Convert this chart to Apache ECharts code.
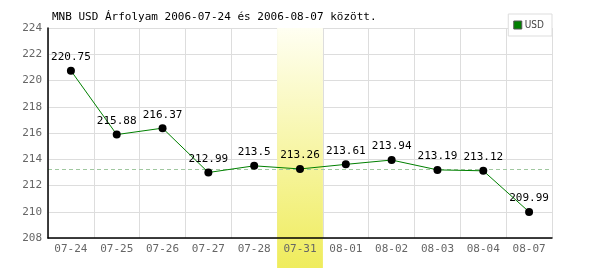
<!DOCTYPE html>
<html><head><meta charset="utf-8">
<script src="https://cdn.jsdelivr.net/npm/echarts@6/dist/echarts.min.js"></script>
<style>html,body{margin:0;padding:0;background:#fff}#c{width:600px;height:270px}</style>
</head><body><div id="c"></div>
<script>
const categories = ['07-24','07-25','07-26','07-27','07-28','07-31','08-01','08-02','08-03','08-04','08-07'];
const usdValues = [220.75, 215.88, 216.37, 212.99, 213.5, 213.26, 213.61, 213.94, 213.19, 213.12, 209.99];
const highlightCategory = '07-31';
const referenceLine = [213.26];
const yTicks = [208, 210, 212, 214, 216, 218, 220, 222, 224];
const titleText = 'MNB USD Árfolyam 2006-07-24 és 2006-08-07 között.';
const seriesName = 'USD';

const mono = 'DejaVu Sans Mono';
const bandData = categories.map(c => c === highlightCategory ? 1 : '-');

const chart = echarts.init(document.getElementById('c'), null, {renderer: 'canvas'});
chart.setOption({
  animation: false,
  backgroundColor: '#fff',
  title: {
    text: titleText, left: 47, top: 7,
    textStyle: {fontFamily: mono, fontSize: 11, fontWeight: 'normal', color: '#000'}
  },
  legend: {
    data: [{name: seriesName, icon: 'rect', itemStyle: {color: '#008000', borderColor: '#555', borderWidth: 1}}],
    right: 48, top: 14, orient: 'vertical',
    itemWidth: 8, itemHeight: 8, itemGap: 0,
    padding: [6, 8, 6, 5],
    borderColor: '#dddddd', borderWidth: 1, backgroundColor: '#fff',
    textStyle: {fontFamily: 'DejaVu Sans Condensed', fontSize: 10, color: '#444', padding: [0,0,0,-2]}
  },
  grid: [
    {left: 48, right: 48, top: 28, bottom: 32},
    {left: 48, right: 48, top: 28, bottom: 2}
  ],
  xAxis: [
    {
      type: 'category', data: categories, gridIndex: 0, boundaryGap: true, z: 0,
      axisLine: {show: false},
      axisTick: {show: false},
      splitLine: {show: true, interval: 0, lineStyle: {color: '#dddddd', width: 1}},
      axisLabel: {show: false}
    },
    {
      type: 'category', data: categories, gridIndex: 1, boundaryGap: true, show: false
    },
    {
      type: 'category', data: categories, gridIndex: 0, boundaryGap: true, position: 'bottom', z: 6,
      axisLine: {show: true, onZero: false, lineStyle: {color: '#000', width: 1.5}},
      axisTick: {show: false},
      splitLine: {show: false},
      axisLabel: {fontFamily: mono, fontSize: 11, color: '#666', margin: 6, interval: 0}
    }
  ],
  yAxis: [
    {
      type: 'value', gridIndex: 0, min: yTicks[0], max: yTicks[yTicks.length-1], interval: 2, z: 6,
      axisLine: {show: true, lineStyle: {color: '#000', width: 1.5}},
      axisTick: {show: false},
      splitLine: {show: false},
      axisLabel: {fontFamily: mono, fontSize: 11, color: '#666', margin: 6}
    },
    {type: 'value', gridIndex: 1, min: 0, max: 1, show: false},
    {
      type: 'value', gridIndex: 0, min: yTicks[0], max: yTicks[yTicks.length-1], interval: 2, z: 0,
      position: 'left', axisLine: {show: false}, axisTick: {show: false}, axisLabel: {show: false},
      splitLine: {lineStyle: {color: '#dddddd', width: 1}}
    }
  ],
  series: [
    {
      type: 'bar', xAxisIndex: 1, yAxisIndex: 1, data: bandData,
      barWidth: '100%', silent: true, z: 1,
      itemStyle: {
        color: new echarts.graphic.LinearGradient(0, 0, 0, 1, [
          {offset: 0, color: '#fffff2'},
          {offset: 1, color: '#efec5c'}
        ])
      }
    },
    {
      name: seriesName, type: 'line', data: usdValues, smooth: false, z: 5,
      xAxisIndex: 0, yAxisIndex: 0,
      symbol: 'circle', symbolSize: 8,
      itemStyle: {color: '#000'},
      lineStyle: {color: '#008000', width: 1},
      label: {show: true, position: 'top', distance: 4, fontFamily: mono, fontSize: 11, color: '#000'},
      markLine: {
        silent: true, symbol: 'none', label: {show: false},
        lineStyle: {color: '#a0c8a0', type: [4, 3], width: 1},
        data: referenceLine.map(v => ({yAxis: v}))
      }
    }
  ]
});
</script>
</body></html>
